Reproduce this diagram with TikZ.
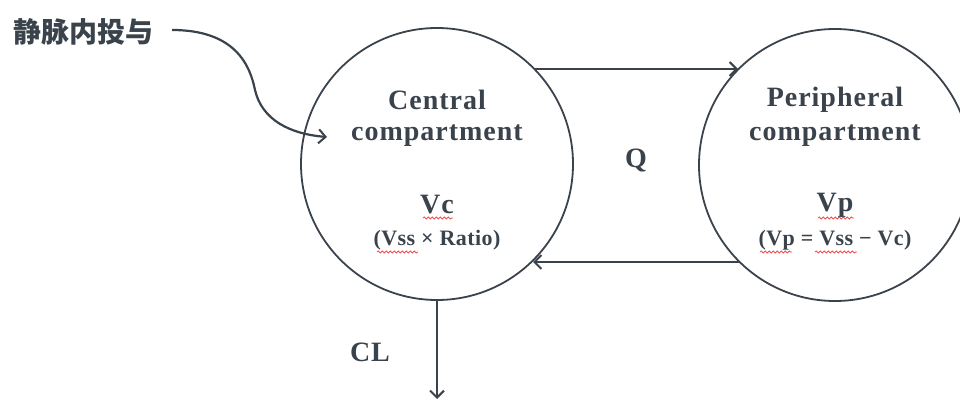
\documentclass[tikz,border=0pt]{standalone}
\usepackage{fontspec}
\setmainfont{Liberation Serif}
\newfontfamily\cjk{Noto Sans CJK SC}
\usetikzlibrary{arrows.meta,decorations.pathmorphing}
\definecolor{ink}{RGB}{58,67,76}
\definecolor{spell}{RGB}{235,80,80}
\tikzset{
  comp/.style={circle,draw=ink,line width=1.8pt,minimum size=272pt,inner sep=0pt},
  lbl/.style={text=ink,font=\bfseries\fontsize{28}{30}\selectfont\addfontfeature{LetterSpace=3.5},inner sep=0pt},
  sub/.style={text=ink,font=\bfseries\fontsize{22}{24}\selectfont\addfontfeature{LetterSpace=2},inner sep=0pt},
  flow/.style={draw=ink,line width=2.2pt,-{Straight Barb[length=7pt,width=14pt,line width=2pt]}},
  squig/.style={draw=spell,line width=0.8pt,decorate,decoration={snake,amplitude=1.1pt,segment length=4pt}}
}
\begin{document}
\begin{tikzpicture}[x=1pt,y=-1pt]
\useasboundingbox (0,0) rectangle (960,401);
\clip (0,0) rectangle (960,401);
\node[comp] (c) at (437,164) {};
\node[comp] (p) at (835,165) {};
% texts
\node[lbl] (c1) at (437,100) {Central};
\node[lbl] (c2) at (437,136) {compartment};
\node[lbl] (vc) at (437,205) {Vc};
\node[sub] (vcs) at (437,240) {(Vss × Ratio)};
\node[lbl] (p1) at (835,100) {Peripheral};
\node[lbl] (p2) at (835,136) {compartment};
\node[lbl] (vp) at (835,205) {Vp};
\node[sub] (vps) at (835,240) {(Vp = Vss − Vc)};
\node[lbl] (q) at (636,160) {Q};
\node[lbl] (cl) at (370,352) {CL};
\node[text=ink,font=\cjk\bfseries\fontsize{28}{30}\selectfont,inner sep=0pt] (iv) at (83,32) {静脉内投与};
% spell-check squiggles
\draw[squig] (423,218) -- (453,218);
\draw[squig] (377,252) -- (418,252);
\draw[squig] (818,218) -- (854,218);
\draw[squig] (760,252) -- (792,252);
\draw[squig] (815,252) -- (857,252);
% connectors
\coordinate (t1) at (535,69);
\coordinate (t2) at (738,69);
\coordinate (b1) at (740,262);
\coordinate (b2) at (533,262);
\coordinate (clend) at (437,399);
\draw[flow] (t1) -- (t2);
\draw[flow] (b1) -- (b2);
\draw[flow] (c.south) -- (clend);
\coordinate (ivs) at (172,30);
\coordinate (ive) at (327,137);
\draw[flow] (ivs) .. controls (235,30) and (250,65) .. (255,90)
  .. controls (262,120) and (290,134) .. (ive);
\end{tikzpicture}
\end{document}
